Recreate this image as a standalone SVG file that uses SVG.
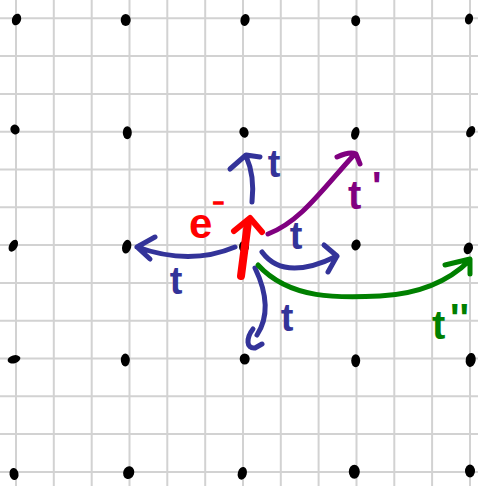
<svg xmlns="http://www.w3.org/2000/svg" width="478" height="486" viewBox="0 0 478 486">
<style>
.grid line{stroke:#d2d2d2;stroke-width:2}
.dot{fill:#000}
.c{fill:none;stroke-linecap:round;stroke-linejoin:round}
.blue{stroke:#333399;stroke-width:5}
.red{stroke:#ff0000}
.purple{stroke:#800080;stroke-width:5}
.green{stroke:#008000;stroke-width:5}
.lbl{font-family:"Liberation Sans","DejaVu Sans",sans-serif;font-weight:bold}
.mid{text-anchor:middle}
</style>
<rect width="478" height="486" fill="#fff"/>
<g class="grid">
<line x1="16" y1="0" x2="16" y2="486"/><line x1="53.8" y1="0" x2="53.8" y2="486"/><line x1="91.7" y1="0" x2="91.7" y2="486"/><line x1="129.5" y1="0" x2="129.5" y2="486"/><line x1="167.3" y1="0" x2="167.3" y2="486"/><line x1="205.2" y1="0" x2="205.2" y2="486"/><line x1="243" y1="0" x2="243" y2="486"/><line x1="280.8" y1="0" x2="280.8" y2="486"/><line x1="318.6" y1="0" x2="318.6" y2="486"/><line x1="356.5" y1="0" x2="356.5" y2="486"/><line x1="394.3" y1="0" x2="394.3" y2="486"/><line x1="432.1" y1="0" x2="432.1" y2="486"/><line x1="470" y1="0" x2="470" y2="486"/>
<line x1="0" y1="18.3" x2="478" y2="18.3"/><line x1="0" y1="56.1" x2="478" y2="56.1"/><line x1="0" y1="93.9" x2="478" y2="93.9"/><line x1="0" y1="131.7" x2="478" y2="131.7"/><line x1="0" y1="169.5" x2="478" y2="169.5"/><line x1="0" y1="207.3" x2="478" y2="207.3"/><line x1="0" y1="245.1" x2="478" y2="245.1"/><line x1="0" y1="282.9" x2="478" y2="282.9"/><line x1="0" y1="320.7" x2="478" y2="320.7"/><line x1="0" y1="358.5" x2="478" y2="358.5"/><line x1="0" y1="396.3" x2="478" y2="396.3"/><line x1="0" y1="434.1" x2="478" y2="434.1"/><line x1="0" y1="471.9" x2="478" y2="471.9"/>
</g>
<g id="sites">
<ellipse class="dot" cx="16.5" cy="19.5" rx="4.5" ry="6" transform="rotate(20 16.5 19.5)"/>
<ellipse class="dot" cx="125.7" cy="20" rx="5" ry="6"/>
<ellipse class="dot" cx="245" cy="20" rx="4.5" ry="6" transform="rotate(15 245 20)"/>
<ellipse class="dot" cx="355.7" cy="20.7" rx="4.5" ry="5.5"/>
<ellipse class="dot" cx="469" cy="19" rx="4" ry="5.5" transform="rotate(15 469 19)"/>
<ellipse class="dot" cx="15" cy="129.5" rx="4.5" ry="5" transform="rotate(-30 15 129.5)"/>
<ellipse class="dot" cx="127.3" cy="132.7" rx="4.5" ry="6.5"/>
<ellipse class="dot" cx="244" cy="132.3" rx="4.5" ry="5.5" transform="rotate(-20 244 132.3)"/>
<ellipse class="dot" cx="355.3" cy="133.3" rx="4" ry="6.5" transform="rotate(15 355.3 133.3)"/>
<ellipse class="dot" cx="470.7" cy="131.7" rx="4" ry="6" transform="rotate(30 470.7 131.7)"/>
<ellipse class="dot" cx="13.3" cy="245.7" rx="4" ry="6.5" transform="rotate(30 13.3 245.7)"/>
<ellipse class="dot" cx="126.7" cy="246.7" rx="4.5" ry="7" transform="rotate(15 126.7 246.7)"/>
<ellipse class="dot" cx="244" cy="246.7" rx="5" ry="6"/>
<ellipse class="dot" cx="356" cy="245" rx="4.5" ry="5.5" transform="rotate(20 356 245)"/>
<ellipse class="dot" cx="468.3" cy="248.3" rx="4.5" ry="6" transform="rotate(20 468.3 248.3)"/>
<ellipse class="dot" cx="14" cy="359.3" rx="6.5" ry="4" transform="rotate(-15 14 359.3)"/>
<ellipse class="dot" cx="125.3" cy="360" rx="4.5" ry="6.5"/>
<ellipse class="dot" cx="244.7" cy="359" rx="5" ry="5.5"/>
<ellipse class="dot" cx="355.7" cy="360.7" rx="4.5" ry="6.5"/>
<ellipse class="dot" cx="470.7" cy="360" rx="5" ry="7" transform="rotate(10 470.7 360)"/>
<ellipse class="dot" cx="14" cy="474" rx="4.5" ry="6" transform="rotate(-10 14 474)"/>
<ellipse class="dot" cx="128.7" cy="472.7" rx="5.5" ry="6.5" transform="rotate(20 128.7 472.7)"/>
<ellipse class="dot" cx="242.3" cy="473.3" rx="4.5" ry="6.5" transform="rotate(15 242.3 473.3)"/>
<ellipse class="dot" cx="354.3" cy="471.7" rx="5.5" ry="7"/>
<ellipse class="dot" cx="470" cy="471" rx="5" ry="6.5"/>
</g>
<g id="connectors">
<path class="c blue" d="M235,247 Q190,266 137,247 M155,237 L137,247 L150,259"/>
<path class="c blue" d="M252,202 Q255,176 246,156 M230,169 L246,155 L260,157"/>
<path class="c blue" d="M262,252 Q284,282 337,256 M324,245 L337,256 L328,272"/>
<path class="c blue" d="M255,268 C268,295 268,318 257,335 M253,329 C246,338 246,349 255,348 L262,344"/>
<path class="c red" stroke-width="8" d="M241,276 L248,222"/>
<path class="c red" stroke-width="6" d="M234,231 L250,218 L262,232"/>
<path class="c purple" d="M268,234 C300,222 322,190 353,156 M337,157 Q350,151 356,154 L360,164"/>
<path class="c green" d="M258,265 C290,300 340,298 380,296 C420,294 450,280 470,260 M445,265 L470,259 L470,274"/>
</g>
<g id="labels">
<text class="lbl mid" x="274" y="177" font-size="38" fill="#333399">t</text>
<text class="lbl mid" x="176" y="294" font-size="38" fill="#333399">t</text>
<text class="lbl mid" x="296" y="249" font-size="38" fill="#333399">t</text>
<text class="lbl mid" x="287" y="331" font-size="38" fill="#333399">t</text>
<text class="lbl" x="348" y="209" font-size="40" fill="#800080">t<tspan x="372" y="200">'</tspan></text>
<text class="lbl" x="432" y="339" font-size="40" fill="#008000">t<tspan x="450" y="332">''</tspan></text>
<text class="lbl" x="189" y="238" font-size="42" fill="#ff0000">e</text>
<text class="lbl" x="213" y="209" font-size="18" fill="#ff0000" stroke="#ff0000" stroke-width="1.6">−</text>
</g>
</svg>
